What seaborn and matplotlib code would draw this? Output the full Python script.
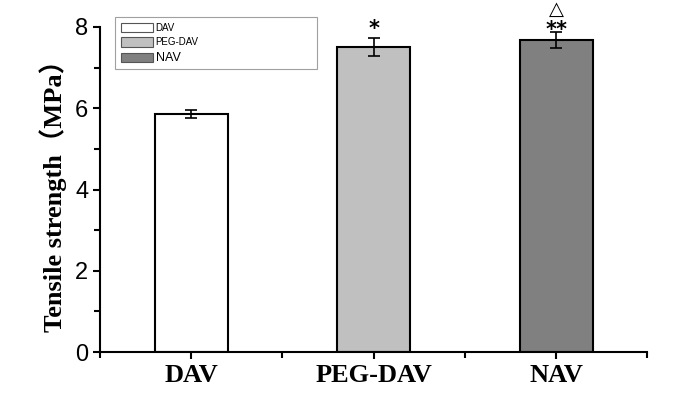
import numpy as np
import pandas as pd
import seaborn as sns
import matplotlib.pyplot as plt
from matplotlib.patches import Patch
from matplotlib.ticker import MultipleLocator, FixedLocator

# Data
groups = ['DAV', 'PEG-DAV', 'NAV']
strength = [5.85, 7.5, 7.67]
sd = [0.10, 0.22, 0.20]
marks = ['', '*', '**']
mark_y = [0, 7.95, 7.93]
colors = ['#ffffff', '#c0c0c0', '#808080']

df = pd.DataFrame({'group': groups, 'strength': strength})

sns.set_style('ticks')
plt.rcParams.update({'text.color': 'black', 'axes.labelcolor': 'black',
                     'xtick.color': 'black', 'ytick.color': 'black',
                     'axes.edgecolor': 'black'})
fig = plt.figure(figsize=(6.85, 4.08), dpi=100)
ax = fig.add_axes([0.146, 0.137, 0.799, 0.797])

sns.barplot(data=df, x='group', y='strength', hue='group', palette=colors,
            width=0.4, edgecolor='black', linewidth=1.5, legend=False, ax=ax)
ax.errorbar(range(len(groups)), strength, yerr=sd, fmt='none', ecolor='black',
            elinewidth=1.2, capsize=4, capthick=1.2)

# significance marks
for i, m in enumerate(marks):
    if m:
        ax.text(i, mark_y[i], m, ha='center', va='center',
                fontsize=15, fontweight='bold', clip_on=False)
ax.text(2, 8.42, '△', ha='center', va='center', fontsize=14, clip_on=False)

ax.set_xlim(-0.5, 2.5)
ax.set_ylim(0, 8)
ax.yaxis.set_major_locator(MultipleLocator(2))
ax.yaxis.set_minor_locator(MultipleLocator(1))
ax.xaxis.set_minor_locator(FixedLocator([-0.5, 0.5, 1.5, 2.5]))
ax.tick_params(axis='both', which='major', length=5, width=1.5, direction='out')
ax.tick_params(axis='both', which='minor', length=4, width=1.5, direction='out')
sns.despine(ax=ax)
for s in ['left', 'bottom']:
    ax.spines[s].set_linewidth(1.5)

for lab in ax.get_yticklabels():
    lab.set_family('Liberation Sans')
    lab.set_fontsize(17)
for lab in ax.get_xticklabels():
    lab.set_family('Liberation Serif')
    lab.set_fontsize(19)
    lab.set_fontweight('bold')

ax.set_xlabel('')
ax.set_ylabel('Tensile strength（MPa）', fontsize=19, fontweight='bold',
              family=['Liberation Serif', 'Noto Sans CJK SC'], labelpad=6)

handles = [Patch(facecolor=c, edgecolor='#555555', linewidth=0.8) for c in colors]
leg = fig.legend(handles, groups, loc='upper left',
                 bbox_to_anchor=(0.1606, 0.8407, 0.3095, 0.130), mode='expand',
                 frameon=True, fancybox=False, edgecolor='#888888',
                 prop={'family': 'Liberation Sans', 'size': 7},
                 handlelength=3.3, handleheight=1.15, labelspacing=0.45,
                 handletextpad=0.3, borderpad=0.6)
leg.get_frame().set_linewidth(0.8)
leg.get_texts()[2].set_fontsize(9)

fig.savefig('out.png', dpi=100)
